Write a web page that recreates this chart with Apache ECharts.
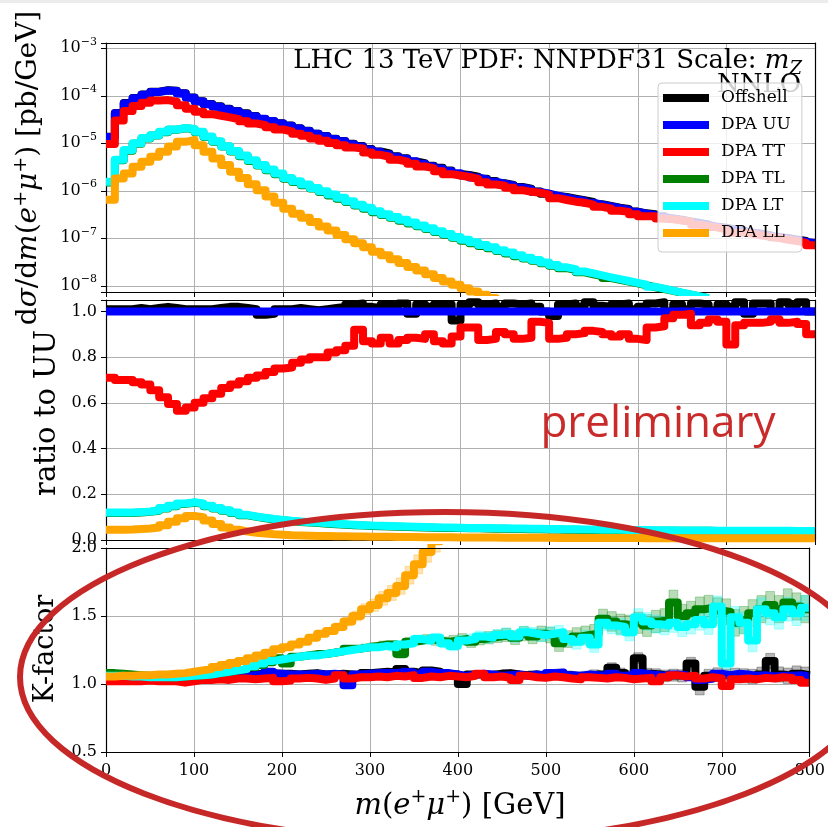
<!DOCTYPE html>
<html>
<head>
<meta charset="utf-8">
<script src="https://cdn.jsdelivr.net/npm/echarts@6.0.0/dist/echarts.min.js"></script>
<style>
html,body{margin:0;padding:0;background:#fff;}
#chart{width:828px;height:827px;}
</style>
</head>
<body>
<div id="chart"></div>
<script>
// ---------- DATA ----------
const binEdges = [0,10,20,30,40,50,60,70,80,90,100,110,120,130,140,150,160,170,180,190,200,210,220,230,240,250,260,270,280,290,300,310,320,330,340,350,360,370,380,390,400,410,420,430,440,450,460,470,480,490,500,510,520,530,540,550,560,570,580,590,600,610,620,630,640,650,660,670,680,690,700,710,720,730,740,750,760,770,780,790,800];

const seriesNames = ['Offshell','DPA UU','DPA TT','DPA TL','DPA LT','DPA LL'];
const xTicks = [0,100,200,300,400,500,600,700,800];

// top panel: dσ/dm [pb/GeV]
const topOffshell = [1.37e-5,4.32e-5,7.0e-5,9.0e-5,1.06e-4,1.22e-4,1.31e-4,1.28e-4,1.13e-4,9.2e-5,
7.7e-5,6.7e-5,6.0e-5,5.3e-5,4.8e-5,4.3e-5,3.75e-5,3.25e-5,2.92e-5,2.63e-5,
2.38e-5,2.08e-5,1.84e-5,1.59e-5,1.42e-5,1.25e-5,1.12e-5,9.8e-6,8.8e-6,7.55e-6,
6.7e-6,6.1e-6,5.35e-6,4.85e-6,4.15e-6,3.8e-6,3.37e-6,3.04e-6,2.68e-6,2.26e-6,
2.16e-6,1.98e-6,1.79e-6,1.6e-6,1.44e-6,1.33e-6,1.2e-6,1.11e-6,9.7e-7,8.7e-7,
7.75e-7,7.4e-7,6.8e-7,6.3e-7,5.8e-7,5.2e-7,4.8e-7,4.4e-7,4.15e-7,3.65e-7,
3.35e-7,3.2e-7,2.9e-7,2.6e-7,2.47e-7,2.26e-7,2.11e-7,1.96e-7,1.75e-7,1.67e-7,
1.54e-7,1.47e-7,1.31e-7,1.24e-7,1.16e-7,1.05e-7,1.02e-7,9.4e-8,8.8e-8,7.9e-8];
const topUU = [1.35e-5,4.27e-5,6.9e-5,8.9e-5,1.05e-4,1.20e-4,1.29e-4,1.26e-4,1.12e-4,9.1e-5,
7.6e-5,6.6e-5,5.9e-5,5.2e-5,4.7e-5,4.2e-5,3.7e-5,3.3e-5,2.95e-5,2.6e-5,
2.35e-5,2.05e-5,1.82e-5,1.58e-5,1.41e-5,1.23e-5,1.10e-5,9.5e-6,8.5e-6,7.4e-6,
6.6e-6,5.9e-6,5.2e-6,4.7e-6,4.2e-6,3.7e-6,3.3e-6,2.95e-6,2.6e-6,2.35e-6,
2.1e-6,1.9e-6,1.74e-6,1.55e-6,1.41e-6,1.29e-6,1.17e-6,1.07e-6,9.5e-7,8.7e-7,
7.9e-7,7.2e-7,6.6e-7,6.2e-7,5.6e-7,5.1e-7,4.7e-7,4.3e-7,4.0e-7,3.6e-7,
3.3e-7,3.1e-7,2.8e-7,2.6e-7,2.4e-7,2.24e-7,2.04e-7,1.9e-7,1.74e-7,1.62e-7,
1.51e-7,1.41e-7,1.32e-7,1.2e-7,1.12e-7,1.05e-7,9.8e-8,9.1e-8,8.5e-8,7.9e-8];
const topTT = [9.6e-6,3.0e-5,4.8e-5,6.1e-5,7.1e-5,7.9e-5,8.1e-5,7.5e-5,6.3e-5,5.3e-5,
4.6e-5,4.1e-5,3.8e-5,3.5e-5,3.2e-5,2.9e-5,2.6e-5,2.4e-5,2.17e-5,1.95e-5,
1.77e-5,1.59e-5,1.44e-5,1.26e-5,1.13e-5,1.01e-5,9.1e-6,8.1e-6,7.8e-6,6.4e-6,
5.7e-6,5.2e-6,4.5e-6,4.1e-6,3.7e-6,3.26e-6,2.97e-6,2.57e-6,2.24e-6,2.09e-6,
1.95e-6,1.77e-6,1.52e-6,1.36e-6,1.28e-6,1.16e-6,1.03e-6,9.5e-7,9.1e-7,8.3e-7,
7.0e-7,6.4e-7,5.9e-7,5.6e-7,5.1e-7,4.6e-7,4.2e-7,3.8e-7,3.6e-7,3.2e-7,
2.9e-7,2.9e-7,2.6e-7,2.5e-7,2.36e-7,2.22e-7,1.92e-7,1.8e-7,1.68e-7,1.55e-7,
1.29e-7,1.33e-7,1.25e-7,1.14e-7,1.07e-7,1.01e-7,9.3e-8,8.7e-8,8.0e-8,7.1e-8];
const topTL = [1.5e-6,4.4e-6,7.0e-6,9.8e-6,1.26e-5,1.45e-5,1.71e-5,1.92e-5,2.07e-5,1.97e-5,
1.71e-5,1.35e-5,1.07e-5,8.5e-6,6.7e-6,5.3e-6,4.25e-6,3.4e-6,2.7e-6,2.22e-6,
1.8e-6,1.53e-6,1.31e-6,1.11e-6,9.4e-7,8.0e-7,6.8e-7,5.8e-7,4.9e-7,4.2e-7,
3.55e-7,3.08e-7,2.7e-7,2.35e-7,2.05e-7,1.79e-7,1.56e-7,1.35e-7,1.18e-7,1.03e-7,
8.9e-8,7.9e-8,6.9e-8,6.2e-8,5.4e-8,4.8e-8,4.2e-8,3.75e-8,3.35e-8,2.97e-8,
2.64e-8,2.35e-8,2.15e-8,1.92e-8,1.75e-8,1.6e-8,1.45e-8,1.33e-8,1.22e-8,1.12e-8,
1.02e-8,9.3e-9,8.5e-9,7.8e-9,7.1e-9,6.5e-9,6.0e-9,5.5e-9];
const topLT = [1.55e-6,4.5e-6,7.2e-6,1.0e-5,1.29e-5,1.48e-5,1.74e-5,1.95e-5,2.1e-5,2.0e-5,
1.74e-5,1.38e-5,1.10e-5,8.7e-6,6.9e-6,5.5e-6,4.4e-6,3.5e-6,2.8e-6,2.3e-6,
1.86e-6,1.58e-6,1.35e-6,1.15e-6,9.8e-7,8.3e-7,7.1e-7,6.0e-7,5.1e-7,4.4e-7,
3.7e-7,3.2e-7,2.8e-7,2.45e-7,2.14e-7,1.86e-7,1.62e-7,1.41e-7,1.23e-7,1.07e-7,
9.3e-8,8.3e-8,7.2e-8,6.5e-8,5.6e-8,5.0e-8,4.4e-8,3.9e-8,3.5e-8,3.1e-8,
2.75e-8,2.45e-8,2.24e-8,2.0e-8,1.82e-8,1.66e-8,1.51e-8,1.38e-8,1.26e-8,1.15e-8,
1.05e-8,9.5e-9,8.7e-9,7.9e-9,7.2e-9,6.6e-9,6.0e-9,5.5e-9];
const topLL = [6.5e-7,1.82e-6,2.3e-6,3.2e-6,4.1e-6,5.2e-6,6.6e-6,8.5e-6,1.07e-5,1.17e-5,
9.1e-6,6.6e-6,4.8e-6,3.5e-6,2.5e-6,1.86e-6,1.38e-6,1.02e-6,7.6e-7,5.6e-7,
4.2e-7,3.3e-7,2.7e-7,2.2e-7,1.78e-7,1.45e-7,1.17e-7,9.5e-8,7.9e-8,6.5e-8,
5.2e-8,4.4e-8,3.6e-8,3.0e-8,2.5e-8,2.1e-8,1.74e-8,1.45e-8,1.23e-8,1.05e-8,
8.9e-9,7.6e-9,6.5e-9,5.5e-9,4.7e-9];

// middle panel: ratio to UU
const ratioOffshell = [1.01,1.01,1.01,1.015,1.01,1.015,1.02,1.015,1.01,1.01,
1.01,1.01,1.015,1.02,1.02,1.015,1.01,0.985,0.99,1.01,
1.01,1.015,1.01,1.005,1.01,1.015,1.02,1.03,1.035,1.02,
1.015,1.03,1.025,1.035,0.99,1.03,1.02,1.03,1.03,0.96,
1.03,1.04,1.03,1.035,1.02,1.035,1.03,1.035,1.02,1.0,
0.98,1.03,1.035,1.02,1.04,1.025,1.02,1.03,1.035,1.01,
1.02,1.035,1.04,1.0,1.03,1.01,1.035,1.03,1.005,1.03,
1.02,1.04,0.99,1.035,1.035,1.0,1.04,1.03,1.04,1.0];
const ratioUU = [1,1,1,1,1,1,1,1,1,1,1,1,1,1,1,1,1,1,1,1,
1,1,1,1,1,1,1,1,1,1,1,1,1,1,1,1,1,1,1,1,
1,1,1,1,1,1,1,1,1,1,1,1,1,1,1,1,1,1,1,1,
1,1,1,1,1,1,1,1,1,1,1,1,1,1,1,1,1,1,1,1];
const ratioTT = [0.71,0.70,0.70,0.69,0.68,0.655,0.625,0.595,0.565,0.58,
0.60,0.62,0.64,0.665,0.68,0.695,0.71,0.72,0.735,0.75,
0.755,0.775,0.79,0.80,0.80,0.82,0.83,0.85,0.92,0.87,
0.86,0.885,0.86,0.875,0.885,0.88,0.90,0.87,0.86,0.89,
0.93,0.93,0.875,0.88,0.91,0.90,0.88,0.885,0.955,0.95,
0.88,0.885,0.90,0.905,0.915,0.91,0.90,0.89,0.90,0.88,
0.875,0.93,0.935,0.97,0.985,0.99,0.94,0.95,0.965,0.955,
0.855,0.94,0.95,0.95,0.955,0.965,0.95,0.955,0.945,0.90];
const ratioTL = [0.118,0.118,0.118,0.12,0.123,0.128,0.138,0.148,0.158,0.163,
0.158,0.148,0.138,0.128,0.118,0.108,0.101,0.095,0.09,0.086,
0.082,0.079,0.076,0.074,0.071,0.069,0.067,0.065,0.063,0.061,
0.06,0.059,0.058,0.057,0.056,0.055,0.054,0.053,0.053,0.052,
0.051,0.051,0.05,0.049,0.049,0.048,0.048,0.047,0.047,0.046,
0.046,0.045,0.045,0.044,0.044,0.043,0.043,0.043,0.042,0.042,
0.042,0.041,0.041,0.041,0.04,0.04,0.04,0.04,0.039,0.039,
0.039,0.039,0.038,0.038,0.038,0.038,0.038,0.037,0.037,0.037];
const ratioLT = [0.12,0.12,0.12,0.122,0.125,0.13,0.14,0.15,0.16,0.165,
0.16,0.15,0.14,0.13,0.12,0.11,0.103,0.097,0.092,0.088,
0.084,0.081,0.078,0.076,0.073,0.071,0.069,0.067,0.065,0.063,
0.062,0.061,0.06,0.059,0.058,0.057,0.056,0.055,0.055,0.054,
0.053,0.053,0.052,0.051,0.051,0.05,0.05,0.049,0.049,0.048,
0.048,0.047,0.047,0.046,0.046,0.045,0.045,0.045,0.044,0.044,
0.044,0.043,0.043,0.043,0.042,0.042,0.042,0.042,0.041,0.041,
0.041,0.041,0.04,0.04,0.04,0.04,0.04,0.039,0.039,0.039];
const ratioLL = [0.045,0.045,0.046,0.048,0.05,0.055,0.065,0.08,0.095,0.105,
0.10,0.085,0.07,0.055,0.045,0.037,0.032,0.028,0.025,0.023,
0.021,0.02,0.019,0.018,0.017,0.016,0.016,0.015,0.015,0.014,
0.014,0.014,0.013,0.013,0.013,0.012,0.012,0.012,0.012,0.011,
0.011,0.011,0.011,0.011,0.010,0.010,0.010,0.010,0.010,0.010,
0.009,0.009,0.009,0.009,0.009,0.009,0.009,0.009,0.009,0.009,
0.008,0.008,0.008,0.008,0.008,0.008,0.008,0.008,0.008,0.008,
0.008,0.008,0.008,0.008,0.008,0.008,0.008,0.008,0.008,0.008];

// bottom panel: K-factor
const kOffshell = [1.035,1.035,1.035,1.04,1.04,1.04,1.045,1.045,1.045,1.045,
1.05,1.05,1.05,1.055,1.06,1.065,1.07,1.075,1.08,1.075,
1.075,1.07,1.075,1.08,1.07,1.07,1.075,1.07,1.065,1.08,
1.085,1.09,1.085,1.11,1.09,1.08,1.1,1.09,1.075,1.07,
1.0,1.07,1.07,1.065,1.075,1.08,1.07,1.065,1.07,1.06,
1.07,1.08,1.065,1.055,1.06,1.07,1.065,1.12,1.08,1.06,
1.19,1.075,1.07,1.06,1.065,1.06,1.15,0.98,1.06,1.07,
1.06,1.065,1.06,1.055,1.07,1.17,1.07,1.06,1.075,1.065];
const kUU = [1.03,1.03,1.03,1.035,1.035,1.035,1.04,1.04,1.04,1.04,
1.045,1.045,1.05,1.05,1.055,1.06,1.065,1.07,1.09,1.075,
1.07,1.07,1.07,1.075,1.07,1.075,1.07,0.99,1.07,1.075,
1.08,1.08,1.08,1.09,1.085,1.07,1.09,1.08,1.08,1.07,
1.06,1.07,1.075,1.07,1.06,1.065,1.07,1.06,1.07,1.065,
1.08,1.085,1.065,1.06,1.07,1.065,1.06,1.075,1.06,1.065,
1.08,1.07,1.065,1.055,1.07,1.065,1.05,1.03,1.04,1.075,
1.065,1.075,1.07,1.06,1.065,1.055,1.06,1.06,1.065,1.055];
const kTT = [1.02,1.02,1.02,1.02,1.025,1.02,1.02,1.02,1.01,1.02,
1.03,1.03,1.035,1.03,1.04,1.04,1.035,1.04,1.045,1.02,
1.025,1.04,1.045,1.04,1.03,1.04,1.065,1.04,1.05,1.05,
1.055,1.05,1.06,1.055,1.065,1.045,1.055,1.05,1.06,1.055,
1.05,1.06,1.075,1.05,1.055,1.045,1.03,1.06,1.05,1.045,
1.055,1.05,1.04,1.035,1.05,1.045,1.04,1.05,1.045,1.035,
1.04,1.045,1.02,1.05,1.065,1.055,1.06,1.04,1.05,1.04,
0.985,1.035,1.04,1.035,1.045,1.04,1.05,1.045,1.03,1.01];
const kTL = [1.08,1.075,1.07,1.065,1.06,1.055,1.05,1.05,1.055,1.06,
1.065,1.07,1.08,1.09,1.10,1.11,1.125,1.14,1.16,1.19,
1.15,1.20,1.21,1.22,1.22,1.23,1.24,1.26,1.26,1.27,
1.28,1.29,1.29,1.22,1.31,1.32,1.33,1.32,1.31,1.32,
1.33,1.31,1.33,1.34,1.35,1.36,1.34,1.37,1.35,1.37,
1.36,1.30,1.33,1.35,1.36,1.37,1.48,1.46,1.44,1.43,
1.45,1.43,1.46,1.47,1.60,1.50,1.52,1.55,1.56,1.54,
1.53,1.45,1.47,1.52,1.55,1.58,1.55,1.60,1.57,1.55];
const kLT = [1.06,1.06,1.055,1.055,1.05,1.05,1.05,1.05,1.055,1.06,
1.065,1.07,1.08,1.09,1.10,1.11,1.13,1.15,1.17,1.18,
1.19,1.20,1.21,1.21,1.22,1.23,1.24,1.25,1.26,1.27,
1.27,1.28,1.27,1.29,1.30,1.33,1.32,1.34,1.30,1.28,
1.32,1.33,1.35,1.34,1.36,1.37,1.35,1.38,1.37,1.36,
1.37,1.38,1.33,1.31,1.34,1.29,1.45,1.43,1.42,1.38,
1.49,1.46,1.44,1.43,1.45,1.42,1.44,1.47,1.44,1.57,
1.15,1.49,1.45,1.32,1.55,1.52,1.49,1.55,1.52,1.56];
const kLL = [1.055,1.06,1.06,1.065,1.065,1.07,1.07,1.075,1.08,1.09,
1.10,1.11,1.125,1.14,1.155,1.17,1.19,1.21,1.23,1.255,
1.27,1.29,1.31,1.34,1.37,1.39,1.42,1.46,1.50,1.55,
1.58,1.63,1.67,1.72,1.80,1.88,1.97,2.05,2.1,2.15];

// K-factor uncertainty half-widths (shaded bands)
const kErrOffshell = [0.003,0.003,0.003,0.003,0.003,0.003,0.003,0.003,0.004,0.004,
0.004,0.004,0.005,0.005,0.005,0.006,0.006,0.006,0.007,0.007,
0.008,0.008,0.009,0.009,0.01,0.01,0.011,0.011,0.012,0.012,
0.013,0.013,0.014,0.015,0.015,0.016,0.017,0.018,0.018,0.02,
0.02,0.021,0.022,0.023,0.024,0.025,0.025,0.026,0.027,0.028,
0.029,0.03,0.031,0.032,0.033,0.034,0.035,0.036,0.037,0.038,
0.04,0.041,0.042,0.043,0.044,0.045,0.046,0.06,0.048,0.049,
0.05,0.051,0.052,0.053,0.054,0.055,0.056,0.057,0.058,0.06];
const kErrTL = [0.004,0.004,0.004,0.004,0.004,0.004,0.004,0.005,0.005,0.005,
0.006,0.006,0.007,0.007,0.008,0.009,0.01,0.011,0.012,0.013,
0.014,0.015,0.016,0.017,0.018,0.019,0.02,0.021,0.022,0.023,
0.025,0.026,0.027,0.03,0.03,0.032,0.033,0.035,0.036,0.038,
0.04,0.041,0.043,0.045,0.046,0.048,0.05,0.052,0.054,0.056,
0.058,0.06,0.062,0.064,0.066,0.068,0.07,0.072,0.074,0.076,
0.078,0.08,0.082,0.084,0.09,0.086,0.088,0.09,0.092,0.094,
0.096,0.098,0.1,0.1,0.1,0.1,0.1,0.1,0.1,0.1];
const kErrLT = [0.004,0.004,0.004,0.004,0.004,0.004,0.004,0.005,0.005,0.005,
0.006,0.006,0.007,0.007,0.008,0.009,0.01,0.011,0.012,0.013,
0.014,0.015,0.016,0.017,0.018,0.019,0.02,0.021,0.022,0.023,
0.024,0.025,0.026,0.027,0.028,0.03,0.031,0.032,0.034,0.035,
0.036,0.037,0.039,0.04,0.041,0.043,0.044,0.045,0.047,0.048,
0.05,0.051,0.052,0.054,0.055,0.057,0.058,0.06,0.061,0.062,
0.064,0.065,0.066,0.068,0.07,0.071,0.072,0.074,0.075,0.077,
0.1,0.08,0.081,0.083,0.084,0.086,0.087,0.088,0.09,0.092];
const kErrLL = [0.004,0.004,0.004,0.004,0.004,0.004,0.005,0.005,0.005,0.006,
0.006,0.007,0.008,0.008,0.009,0.01,0.011,0.012,0.013,0.015,
0.016,0.018,0.02,0.022,0.024,0.026,0.029,0.032,0.036,0.04,
0.045,0.05,0.055,0.06,0.065,0.07,0.075,0.08,0.085,0.09];

// ---------- CHART ----------
const colors = ['#000000','#0000ff','#ff0000','#008000','#00ffff','#ffa500'];
const bandColors = ['rgba(0,0,0,0.28)','rgba(0,0,255,0.25)','rgba(255,0,0,0.25)','rgba(0,128,0,0.28)','rgba(0,255,255,0.28)','rgba(255,165,0,0.3)'];
const SERIF = 'DejaVu Serif';

function steps(vals){
  const pts = vals.map((v,i)=>[binEdges[i], v]);
  pts.push([binEdges[vals.length], vals[vals.length-1]]);
  return pts;
}
function mk(name, idx, vals, g){
  return {
    name: name, type:'line', step:'end', xAxisIndex:g, yAxisIndex:g,
    data: steps(vals), showSymbol:false, symbol:'none', animation:false,
    color: colors[idx], clip:true, z:3,
    lineStyle:{width:8, color:colors[idx], join:'round', cap:'butt'}
  };
}
function band(idx, vals, errs, g){
  return {
    type:'custom', xAxisIndex:g, yAxisIndex:g, clip:true, z:2, silent:true,
    data: vals.map((v,i)=>[binEdges[i], binEdges[i+1], v-errs[i], v+errs[i]]),
    renderItem:function(params, api){
      const p0 = api.coord([api.value(0), api.value(3)]);
      const p1 = api.coord([api.value(1), api.value(2)]);
      const rect = echarts.graphic.clipRectByRect(
        {x:p0[0], y:p0[1], width:p1[0]-p0[0], height:p1[1]-p0[1]},
        {x:params.coordSys.x, y:params.coordSys.y, width:params.coordSys.width, height:params.coordSys.height});
      return rect && {type:'rect', shape:rect, style:{fill:bandColors[idx], stroke:bandColors[idx], lineWidth:1}};
    }
  };
}
const panels = [
  [topOffshell, topUU, topTT, topTL, topLT, topLL],
  [ratioOffshell, ratioUU, ratioTT, ratioTL, ratioLT, ratioLL],
  [kOffshell, kUU, kTT, kTL, kLT, kLL]
];
const series = [];
series.push(band(0, kOffshell, kErrOffshell, 2));
series.push(band(3, kTL, kErrTL, 2));
series.push(band(4, kLT, kErrLT, 2));
series.push(band(5, kLL, kErrLL, 2));
panels.forEach((arrs,g)=>arrs.forEach((a,i)=>series.push(mk(seriesNames[i], i, a, g))));

const gridLine = {show:true, showMinLine:false, showMaxLine:false, lineStyle:{color:'#b0b0b0', width:1}};
const spine = {show:true, onZero:false, lineStyle:{color:'#000', width:1.2}};
function xAx(g, labels){
  return {type:'value', gridIndex:g, position:'bottom', min:xTicks[0], max:xTicks[xTicks.length-1], interval:100,
    axisLine:spine,
    axisTick:{show:true, length:5, lineStyle:{color:'#000', width:1}},
    axisLabel:{show:labels, margin:11, color:'#000', fontFamily:SERIF, fontSize:16},
    splitLine:gridLine};
}
function xTop(g){
  return {type:'value', gridIndex:g, position:'top', min:0, max:800,
    axisLine:spine, axisTick:{show:false}, axisLabel:{show:false}, splitLine:{show:false}, z:5};
}
function yRight(g){
  return {type:'value', gridIndex:g, position:'right', min:0, max:1,
    axisLine:spine, axisTick:{show:false}, axisLabel:{show:false}, splitLine:{show:false}, z:5};
}
const yCommon = {
  position:'left',
  axisLine:spine,
  axisTick:{show:true, length:5, lineStyle:{color:'#000', width:1}},
  splitLine:gridLine
};
const option = {
  backgroundColor:'#fff',
  animation:false,
  grid:[
    {left:106, top:43, width:709, height:249},
    {left:106, top:300, width:709, height:240},
    {left:106, top:548, width:709, height:204}
  ],
  xAxis:[xAx(0,false), xAx(1,false), xAx(2,true), xTop(0), xTop(1), xTop(2)],
  yAxis:[
    Object.assign({type:'log', gridIndex:0, logBase:10, min:7.4e-9, max:1.29e-3,
      axisLabel:{margin:9, color:'#000',
        formatter:function(v){
          const e = Math.log10(v); const r = Math.round(e);
          if (Math.abs(e-r) > 0.01) return '';
          return '{b|10}{s|' + (r<0?'\u2212':'') + Math.abs(r) + '}';
        },
        rich:{b:{fontFamily:SERIF, fontSize:16, color:'#000', lineHeight:24},
              s:{fontFamily:SERIF, fontSize:11, color:'#000', verticalAlign:'top'}}}
    }, yCommon),
    Object.assign({type:'value', gridIndex:1, min:0, max:1.05, interval:0.2,
      axisLabel:{margin:9, color:'#000', fontFamily:SERIF, fontSize:16,
        formatter:function(v){ const q=v/0.2; return Math.abs(q-Math.round(q))<1e-6 ? v.toFixed(1) : ''; }}
    }, yCommon),
    Object.assign({type:'value', gridIndex:2, min:0.5, max:2.0, interval:0.5,
      axisLabel:{margin:9, color:'#000', fontFamily:SERIF, fontSize:16,
        formatter:function(v){ return v.toFixed(1); }}
    }, yCommon),
    yRight(0), yRight(1), yRight(2)
  ],
  legend:{
    data:seriesNames, orient:'vertical', left:658, top:83,
    itemWidth:46, itemHeight:8, itemGap:7, icon:'rect', selectedMode:false,
    padding:[5,11,9,5],
    backgroundColor:'rgba(255,255,255,0.8)', borderColor:'#cccccc', borderWidth:1, borderRadius:4,
    textStyle:{fontFamily:SERIF, fontSize:17, color:'#000', lineHeight:20, padding:[0,0,0,7]},
    z:10
  },
  series: series,
  graphic:[
    {type:'rect', shape:{x:0,y:0,width:828,height:3}, style:{fill:'#ececec'}, z:0},
    {type:'text', x:802, y:61, z:1, style:{
      text:'{r|LHC 13 TeV PDF: NNPDF31 Scale: }{i|m}{sub|Z}', align:'right', verticalAlign:'middle',
      rich:{r:{fontFamily:SERIF, fontSize:26, fill:'#000', lineHeight:30},
            i:{fontFamily:SERIF, fontStyle:'italic', fontSize:26, fill:'#000', lineHeight:30},
            sub:{fontFamily:SERIF, fontStyle:'italic', fontSize:18, fill:'#000', lineHeight:20, padding:[16,0,0,0]}}}},
    {type:'text', x:801, y:85, z:1, style:{text:'NNLO', align:'right', verticalAlign:'middle',
      fontFamily:SERIF, fontSize:26, fill:'#000'}},
    {type:'text', x:29, y:168, rotation:Math.PI/2, z:1, style:{
      text:'{r|d}{i|\u03c3}{r|/d}{i|m}{r|(}{i|e}{p|+}{i|\u03bc}{p|+}{r|) [pb/GeV]}',
      align:'center', verticalAlign:'middle',
      rich:{r:{fontFamily:SERIF, fontSize:28, fill:'#000', lineHeight:34},
            i:{fontFamily:SERIF, fontStyle:'italic', fontSize:28, fill:'#000', lineHeight:34},
            p:{fontFamily:SERIF, fontSize:19, fill:'#000', verticalAlign:'top'}}}},
    {type:'text', x:47, y:413, rotation:Math.PI/2, z:1, style:{text:'ratio to UU', align:'center', verticalAlign:'middle',
      fontFamily:SERIF, fontSize:29, fill:'#000'}},
    {type:'text', x:46, y:649, rotation:Math.PI/2, z:1, style:{text:'K-factor', align:'center', verticalAlign:'middle',
      fontFamily:SERIF, fontSize:27, fill:'#000'}},
    {type:'text', x:460, y:806, z:1, style:{
      text:'{i|m}{r|(}{i|e}{p|+}{i|\u03bc}{p|+}{r|) [GeV]}', align:'center', verticalAlign:'middle',
      rich:{r:{fontFamily:SERIF, fontSize:29, fill:'#000', lineHeight:36},
            i:{fontFamily:SERIF, fontStyle:'italic', fontSize:29, fill:'#000', lineHeight:36},
            p:{fontFamily:SERIF, fontSize:19, fill:'#000', verticalAlign:'top'}}}},
    {type:'text', x:658, y:424, z:20, style:{text:'preliminary', align:'center', verticalAlign:'middle',
      fontFamily:'Open Sans', fontSize:44, fill:'#c92a2a'}},
    {type:'ellipse', z:100, shape:{cx:445, cy:677, rx:425, ry:165},
      style:{fill:'none', stroke:'#c62828', lineWidth:6}}
  ]
};
const chart = echarts.init(document.getElementById('chart'), null, {renderer:'canvas'});
chart.setOption(option);
</script>
</body>
</html>
